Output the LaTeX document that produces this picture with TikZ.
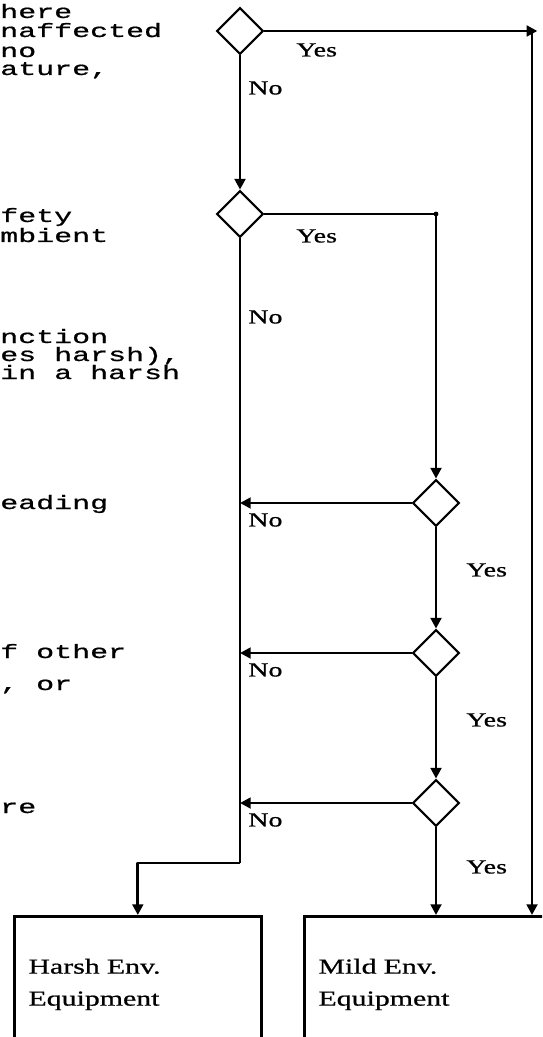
\documentclass[tikz,border=0pt]{standalone}
\usepackage{fontspec}
\setmainfont{Liberation Serif}[FakeStretch=1.4, FakeBold=0.8]
\newfontfamily\critfont{Liberation Mono}[FakeStretch=1.55, FakeBold=0.8]
\usetikzlibrary{shapes.geometric, arrows.meta, positioning}

\begin{document}
\begin{tikzpicture}[
    x=0.75pt, y=-0.75pt,
    >={Triangle[length=8pt, width=8pt]},
    decision/.style={diamond, draw, line width=1.6pt, minimum size=35pt, inner sep=0pt, aspect=1},
    outcome/.style={rectangle, draw, line width=2.2pt, anchor=north west, minimum height=102pt, text width=164pt, inner xsep=10.5pt, align=left, font=\fontsize{16}{24}\selectfont},
    crit/.style={anchor=base west, inner sep=0pt, font=\critfont\fontsize{14.5}{17}\selectfont},
    lbl/.style={anchor=west, inner sep=0pt, font=\fontsize{15}{16}\selectfont},
    line/.style={line width=2.2pt, line join=round}
]
\useasboundingbox (0,0) rectangle (542,1037);
\clip (0,0) rectangle (542,1037);

% criteria text, left column
\node[crit] (c1a) at (0,18) {here};
\node[crit] (c1b) at (0,37) {naffected};
\node[crit] (c1c) at (0,57) {no};
\node[crit] (c1d) at (0,75) {ature,};
\node[crit] (c2a) at (0,222) {fety};
\node[crit] (c2b) at (0,242) {mbient};
\node[crit] (c3a) at (0,343) {nction};
\node[crit] (c3b) at (0,361) {es harsh),};
\node[crit] (c3c) at (0,379) {in a harsh};
\node[crit] (c4a) at (0,509) {eading};
\node[crit] (c5a) at (0,658) {f other};
\node[crit] (c5b) at (0,690) {, or};
\node[crit] (c6a) at (0,813) {re};

% decisions
\node[decision] (q1) at (240,31) {};
\node[decision] (q2) at (240,214) {};
\node[decision] (q3) at (436,503) {};
\node[decision] (q4) at (436,653) {};
\node[decision] (q5) at (436,803) {};

% outcomes
\node[outcome] (harsh) at (13,915) {Harsh Env.\\Equipment};
\node[outcome] (mild) at (303,915) {Mild Env.\\Equipment};

\coordinate (ytop) at (532,31);
\coordinate (y2) at (436,214);
\coordinate (nbot) at (240,863);

% yes branches
\draw[line,->, shorten >=-4pt] (q1) -- (ytop);
\draw[line,->] (ytop) -- (ytop |- mild.north);
\draw[line] (q2) -- (y2);
\fill (y2) circle (1.8pt);
\draw[line,->] (y2) -- (q3);
\draw[line,->] (q3) -- (q4);
\draw[line,->] (q4) -- (q5);
\draw[line,->] (q5) -- (q5 |- mild.north);

% no branches
\draw[line,->] (q1) -- (q2);
\draw[line] (q2) -- (nbot);
\draw[line,->] (nbot) -| (harsh.north);
\draw[line,->] (q3) -- (q3 -| q2);
\draw[line,->] (q4) -- (q4 -| q2);
\draw[line,->] (q5) -- (q5 -| q2);

% labels
\node[lbl] (yes1) at (296,50) {Yes};
\node[lbl] (no1) at (248,88) {No};
\node[lbl] (yes2) at (296,236) {Yes};
\node[lbl] (no2) at (248,317) {No};
\node[lbl] (no3) at (248,520) {No};
\node[lbl] (no4) at (248,670) {No};
\node[lbl] (no5) at (248,820) {No};
\node[lbl] (yes3) at (466,570) {Yes};
\node[lbl] (yes4) at (466,720) {Yes};
\node[lbl] (yes5) at (466,867) {Yes};

\end{tikzpicture}
\end{document}
